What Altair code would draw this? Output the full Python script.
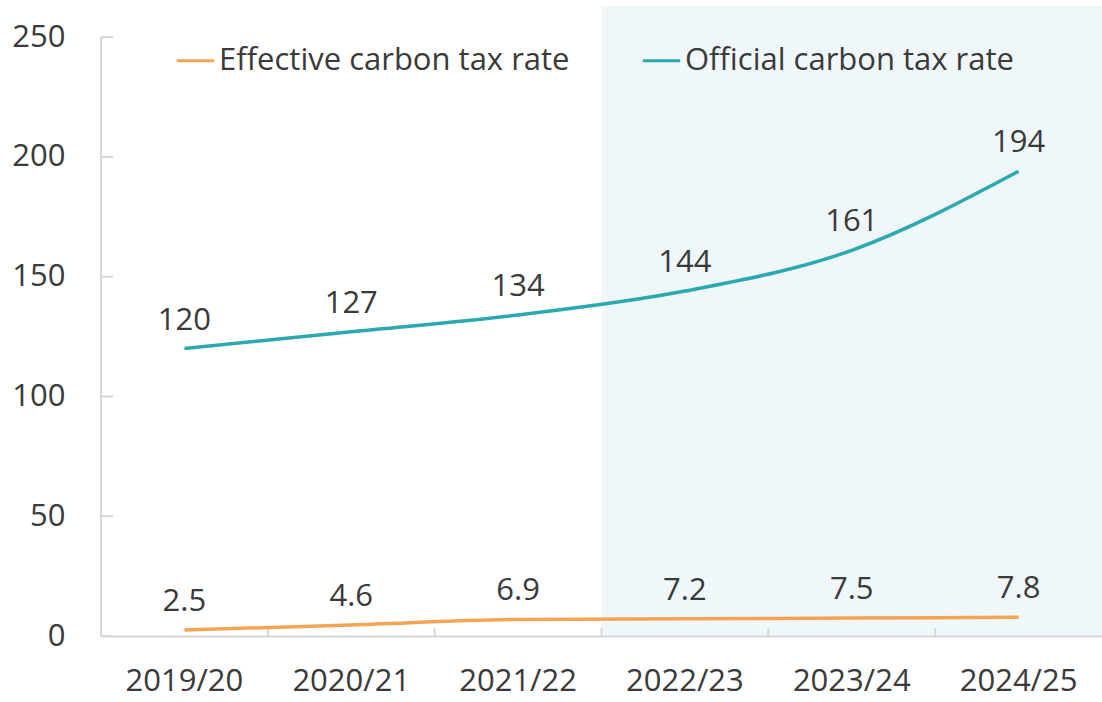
import altair as alt
import pandas as pd

# Fiscal years and the two tax-rate series
years = ["2019/20", "2020/21", "2021/22", "2022/23", "2023/24", "2024/25"]
effective_rate = [2.5, 4.6, 6.9, 7.2, 7.5, 7.8]
official_rate = [120, 127, 134, 144, 161, 194]

# Years shown on the shaded (projected) part of the chart
projected_years = ["2022/23", "2023/24", "2024/25"]

y_ticks = [0, 50, 100, 150, 200, 250]
series_names = ["Effective carbon tax rate", "Official carbon tax rate"]
series_colors = ["#F3A455", "#2AA9B0"]

FONT = "Open Sans"
FSIZE = 31
TEXT = "#3a3a3a"
AXIS_GREY = "#D6D6D6"
Y_TOP = 263  # headroom above the 250 tick for the legend and shading

rows = []
for yr, e, o in zip(years, effective_rate, official_rate):
    rows.append({"year": yr, "series": series_names[0], "value": e, "label": f"{e:g}"})
    rows.append({"year": yr, "series": series_names[1], "value": o, "label": f"{o:g}"})
df = pd.DataFrame(rows)

shade_df = pd.DataFrame({"year": projected_years, "lo": 0, "hi": Y_TOP})
ytick_df = pd.DataFrame({"value": y_ticks})
yline_df = pd.DataFrame({"value": [0], "value2": [250]})
xtick_df = pd.DataFrame({"year": years[1:], "value": 0})

x_scale = alt.Scale(type="band", domain=years, paddingInner=0, paddingOuter=0)
y_scale = alt.Scale(domain=[0, Y_TOP], nice=False, zero=True)


def xenc(**kw):
    return alt.X("year:N", scale=x_scale, sort=years, title=None, **kw)


def yenc(field="value"):
    return alt.Y(f"{field}:Q", scale=y_scale, title=None,
                 axis=alt.Axis(values=y_ticks))


shade = alt.Chart(shade_df).mark_rect(color="#EFF7FB").encode(
    x=xenc(),
    y=yenc("lo"),
    y2="hi:Q",
)

y_line = alt.Chart(yline_df).mark_rule(color=AXIS_GREY, strokeWidth=2).encode(
    x=alt.value(0),
    y=yenc(),
    y2="value2:Q",
)

y_tick_marks = alt.Chart(ytick_df).mark_rule(color=AXIS_GREY, strokeWidth=2).encode(
    x=alt.value(0),
    x2=alt.value(12),
    y=yenc(),
)

x_tick_marks = alt.Chart(xtick_df).mark_rule(color=AXIS_GREY, strokeWidth=2).encode(
    x=xenc(bandPosition=0),
    y=yenc(),
    y2=alt.value(622),
)

lines = alt.Chart(df).mark_line(strokeWidth=3.5, interpolate="monotone").encode(
    x=xenc(),
    y=yenc(),
    color=alt.Color(
        "series:N",
        scale=alt.Scale(domain=series_names, range=series_colors),
        sort=series_names,
        legend=alt.Legend(
            title=None,
            orient="none",
            legendX=74,
            legendY=34,
            direction="horizontal",
            symbolType="stroke",
            symbolStrokeWidth=3,
            symbolSize=1400,
            labelFont=FONT,
            labelFontSize=FSIZE,
            labelColor=TEXT,
            labelLimit=0,
            labelOffset=3,
            columnPadding=66,
        ),
    ),
)

labels = alt.Chart(df).mark_text(
    font=FONT, fontSize=FSIZE, color=TEXT, baseline="alphabetic", dy=-19
).encode(
    x=xenc(),
    y=yenc(),
    text="label:N",
    detail="series:N",
)

chart = (
    alt.layer(shade, y_line, y_tick_marks, x_tick_marks, lines, labels)
    .properties(
        width=1001,
        height=630,
        autosize=alt.AutoSizeParams(type="none"),
        padding={"left": 101, "top": 6, "right": 0, "bottom": 66},
    )
    .configure_view(stroke=None)
    .configure_axisX(
        labelAngle=0,
        labelFont=FONT,
        labelFontSize=FSIZE,
        labelColor=TEXT,
        labelPadding=30,
        ticks=False,
        grid=False,
        domainColor=AXIS_GREY,
        domainWidth=2,
    )
    .configure_axisY(
        labelFont=FONT,
        labelFontSize=FSIZE,
        labelColor=TEXT,
        labelPadding=36,
        ticks=False,
        grid=False,
        domain=False,
    )
)

chart.save("out.html", embed_options={"renderer": "svg", "actions": False})
